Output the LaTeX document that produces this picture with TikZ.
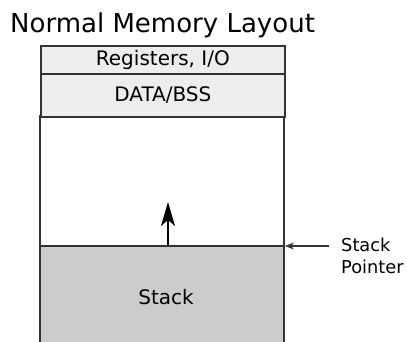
\documentclass[tikz,border=0pt]{standalone}
\usepackage{fontspec}
\setmainfont{DejaVu Sans}
\usetikzlibrary{arrows.meta}
\begin{document}
\begin{tikzpicture}[x=1pt,y=-1pt,
  seg/.style={draw=black!80, line width=1.7pt, fill=black!7, minimum width=244pt, anchor=north west, inner sep=0pt, font=\fontsize{20}{24}\selectfont},
  lbl/.style={font=\fontsize{20}{24}\selectfont, inner sep=0pt},
  sp/.style={font=\fontsize{17.8}{22}\selectfont, inner sep=0pt, align=left}]
\useasboundingbox (0,0) rectangle (407,342);
\node[anchor=base west, inner sep=0pt, font=\fontsize{26}{30}\selectfont] (title) at (10,33) {Normal Memory Layout};
% stack region
\fill[black!20] (40,246) rectangle (284,342);
\draw[black!80, line width=1.7pt] (40,342) -- (40,116) -- (284,116) -- (284,342);
\draw[black!80, line width=1.7pt] (40,246) -- (284,246);
\node[seg, minimum height=28pt] (reg) at (40,45) {Registers, I/O};
\node[seg, minimum height=43pt] (data) at (40,73) {DATA/BSS};
\node[lbl] (stack) at (166,297) {Stack};
\coordinate (sptop) at (168,246);
\coordinate (free) at (168,202);
\draw[line width=1.4pt, -{Stealth[length=24pt,width=14pt,inset=6pt]}] (sptop) -- (free);
\coordinate (spr) at (285,246);
\coordinate (spl) at (329,246);
\draw[black!80, line width=1.1pt, -{Stealth[length=9pt,width=7pt]}] (spl) -- (spr);
\node[sp, anchor=west] (sptext) at (341,256) {Stack\\Pointer};
\end{tikzpicture}
\end{document}
